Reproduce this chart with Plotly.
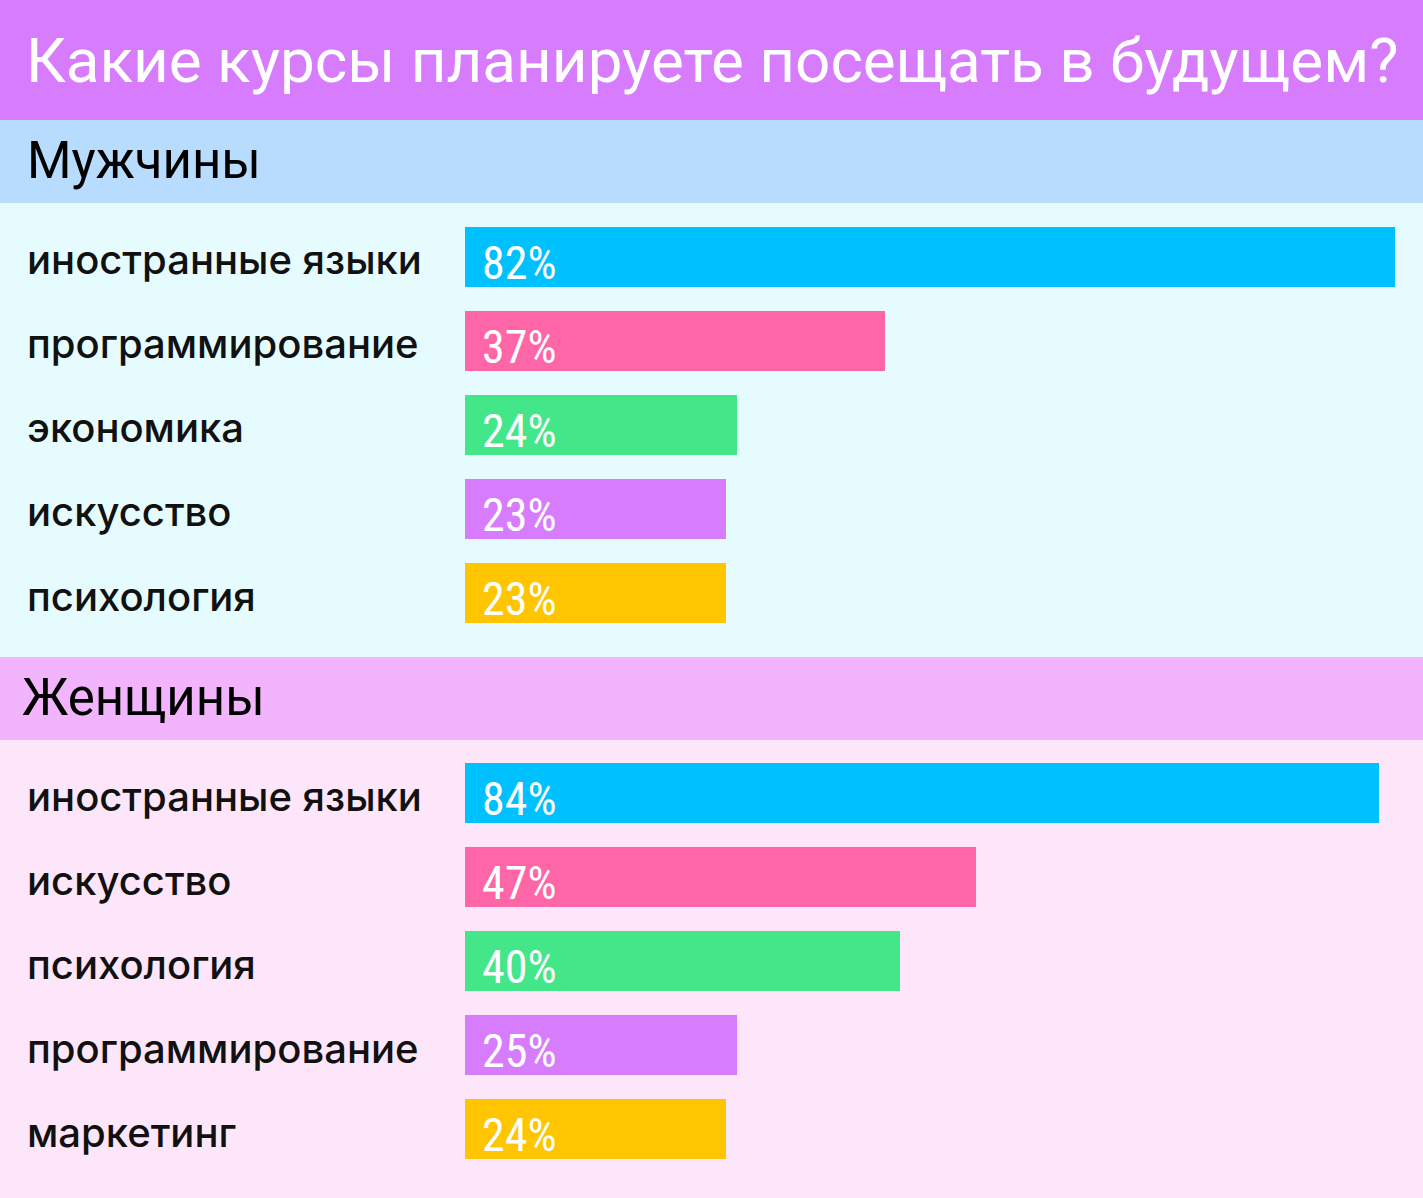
import plotly.graph_objects as go
from plotly.subplots import make_subplots

# data
title_text = 'Какие курсы планируете посещать в будущем?'
men_label = 'Мужчины'
women_label = 'Женщины'

men_courses = ['иностранные языки', 'программирование', 'экономика', 'искусство', 'психология']
men_values = [82, 37, 24, 23, 23]

women_courses = ['иностранные языки', 'искусство', 'психология', 'программирование', 'маркетинг']
women_values = [84, 47, 40, 25, 24]

bar_colors = ['#00c1ff', '#ff66a8', '#44e68a', '#d77cfd', '#ffc500']

W, H = 1423, 1198


def py(px):
    # pixel from top -> paper y
    return 1 - px / H


fig = make_subplots(rows=2, cols=1)

fig.add_trace(go.Bar(y=men_courses, x=men_values, orientation='h',
                     marker={'color': bar_colors, 'line': {'width': 0}},
                     width=0.714, hoverinfo='skip'), row=1, col=1)
fig.add_trace(go.Bar(y=women_courses, x=women_values, orientation='h',
                     marker={'color': bar_colors, 'line': {'width': 0}},
                     width=0.714, hoverinfo='skip'), row=2, col=1)

# background bands
bands = [
    (0, 120, '#d77cfd'),
    (120, 203, '#b7dcfe'),
    (203, 657, '#e6fbfe'),
    (657, 740, '#f2b4fc'),
    (740, 1198, '#fde6fa'),
]
for top, bottom, col in bands:
    fig.add_shape(type='rect', xref='paper', yref='paper', x0=0, x1=1,
                  y0=py(bottom), y1=py(top), fillcolor=col, line={'width': 0},
                  layer='below')

label_font = {'family': 'Inter, Roboto, sans-serif', 'size': 40, 'color': '#111111',
              'weight': 500}
value_font = {'family': 'Roboto Condensed, Liberation Sans Narrow, Roboto, sans-serif',
              'size': 46, 'color': 'white'}

annotations = []
for yref, xref, courses, values in [('y', 'x', men_courses, men_values),
                                    ('y2', 'x2', women_courses, women_values)]:
    for c, v in zip(courses, values):
        annotations.append(dict(x=25 / W, xref='paper', y=c, yref=yref, text=c,
                                xanchor='left', yanchor='middle', showarrow=False,
                                font=label_font, yshift=-3))
        annotations.append(dict(x=0, xref=xref, y=c, yref=yref, text=f'{v}%',
                                xanchor='left', yanchor='middle', showarrow=False,
                                font=value_font, xshift=15, yshift=-6))

annotations.append(dict(x=24 / W, xref='paper', y=py(60), yref='paper', text=title_text,
                        xanchor='left', yanchor='middle', showarrow=False,
                        font={'family': 'Roboto, sans-serif', 'size': 62, 'color': 'white'}))
annotations.append(dict(x=25 / W, xref='paper', y=py(160), yref='paper', text=men_label,
                        xanchor='left', yanchor='middle', showarrow=False,
                        font={'family': 'Roboto, sans-serif', 'size': 51, 'color': 'black'}))
annotations.append(dict(x=20 / W, xref='paper', y=py(697), yref='paper', text=women_label,
                        xanchor='left', yanchor='middle', showarrow=False,
                        font={'family': 'Roboto, sans-serif', 'size': 51, 'color': 'black'}))

axis_common = dict(showgrid=False, zeroline=False, showticklabels=False,
                   showline=False, ticks='', fixedrange=True)

fig.update_layout(
    width=W, height=H,
    margin={'l': 0, 'r': 0, 't': 0, 'b': 0},
    paper_bgcolor='white',
    plot_bgcolor='rgba(0,0,0,0)',
    showlegend=False,
    bargap=0,
    annotations=annotations,
    xaxis={**axis_common, 'domain': [465 / W, 1], 'range': [0, 84.47]},
    xaxis2={**axis_common, 'domain': [465 / W, 1], 'range': [0, 88.04]},
    yaxis={**axis_common, 'domain': [py(635), py(215)], 'autorange': 'reversed'},
    yaxis2={**axis_common, 'domain': [py(1171), py(751)], 'autorange': 'reversed'},
)

fig.write_html('out.html', config={'displayModeBar': False},
               post_script="document.body.style.margin='0';")
